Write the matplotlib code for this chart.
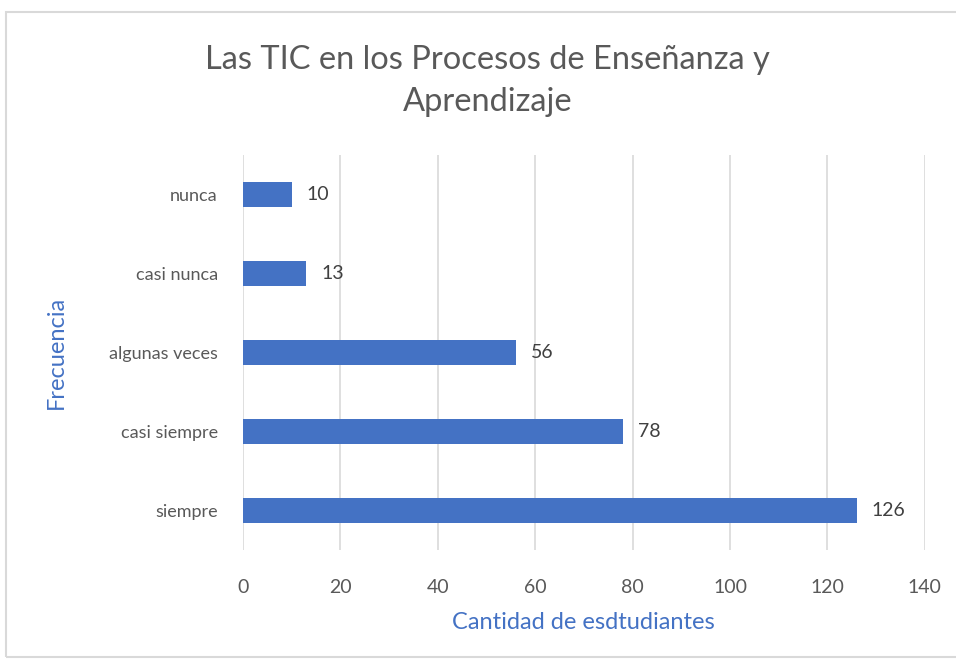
import matplotlib.pyplot as plt
from matplotlib.patches import Rectangle

categories = ['siempre', 'casi siempre', 'algunas veces', 'casi nunca', 'nunca']
counts = [126, 78, 56, 13, 10]
x_ticks = [0, 20, 40, 60, 80, 100, 120, 140]

bar_color = '#4472C4'
text_color = '#595959'
grid_color = '#D9D9D9'

plt.rcParams['font.family'] = ['Lato', 'DejaVu Sans']

fig = plt.figure(figsize=(9.56, 6.62), dpi=100)
fig.patches.append(Rectangle((6 / 956, 5 / 662), 1.0, 645 / 662, transform=fig.transFigure,
                             fill=False, edgecolor=grid_color, linewidth=1.5))

ax = fig.add_axes([0.254, 0.169, 0.7134, 0.597])
y = range(len(categories))
bars = ax.barh(y, counts, height=0.31, color=bar_color, zorder=3)
for rect, v in zip(bars, counts):
    ax.annotate(str(v), (rect.get_width(), rect.get_y() + rect.get_height() / 2),
                xytext=(11, 0), textcoords='offset points', va='center', ha='left',
                fontsize=14, color='#404040')

ax.set_xlim(0, 140)
ax.set_ylim(-0.5, len(categories) - 0.5)
ax.set_xticks(x_ticks)
ax.set_yticks(list(y))
ax.set_yticklabels(categories)
ax.tick_params(length=0, labelsize=13, labelcolor=text_color)
ax.tick_params(axis='x', pad=21, labelsize=14)
ax.tick_params(axis='y', pad=18)
ax.grid(axis='x', color=grid_color, linewidth=1.2, zorder=0)
for s in ax.spines.values():
    s.set_visible(False)

ax.set_xlabel('Cantidad de esdtudiantes', fontsize=17, color='#4472C4', labelpad=11)
ax.set_ylabel('Frecuencia', fontsize=17, color='#4472C4', labelpad=30)
fig.text(0.51, 0.877, 'Las TIC en los Procesos de Enseñanza y\nAprendizaje', ha='center', va='center',
         fontsize=23.5, color=text_color, linespacing=1.5)

fig.savefig('out.png', dpi=100)
